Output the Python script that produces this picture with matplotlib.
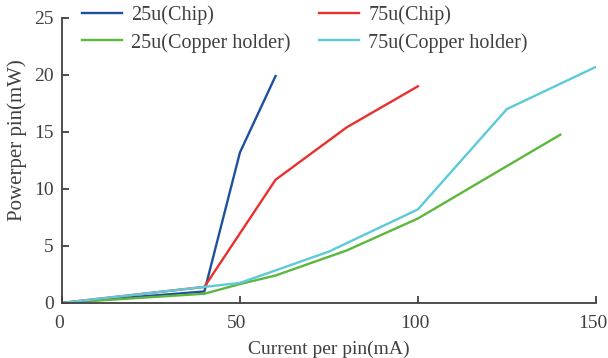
import matplotlib
matplotlib.use("Agg")
import matplotlib.pyplot as plt
import matplotlib.transforms as mtransforms

plt.rcParams['font.family'] = ['Liberation Serif', 'DejaVu Serif']

# data
x_chip25 = [0, 40, 50, 60]
y_chip25 = [0, 1.0, 13.2, 19.9]

x_chip75 = [0, 40, 60, 80, 100]
y_chip75 = [0, 1.4, 10.8, 15.4, 19.0]

x_cu25 = [0, 40, 50, 60, 80, 100, 125, 140]
y_cu25 = [0, 0.8, 1.65, 2.4, 4.6, 7.4, 12.0, 14.75]

x_cu75 = [0, 40, 50, 75, 100, 125, 150]
y_cu75 = [0, 1.4, 1.75, 4.5, 8.2, 17.0, 20.7]

xticks = [0, 50, 100, 150]
yticks = [0, 5, 10, 15, 20, 25]

txt = '#404040'
fig = plt.figure(figsize=(6.08, 3.58), dpi=100)
ax = fig.add_axes([0.102, 0.154, 0.878, 0.796])

ax.plot(x_chip25, y_chip25, color='#1f4f9e', lw=1.7, label='25u(Chip)')
ax.plot(x_cu25, y_cu25, color='#5cb83c', lw=1.7, label='25u(Copper holder)')
ax.plot(x_chip75, y_chip75, color='#e8302c', lw=1.7, label='75u(Chip)')
ax.plot(x_cu75, y_cu75, color='#5ccad8', lw=1.7, label='75u(Copper holder)')

ax.set_xlim(0, 150)
ax.set_ylim(0, 25)
ax.set_xticks(xticks)
ax.set_yticks(yticks)
for s in ['top', 'right']:
    ax.spines[s].set_visible(False)
for s in ['left', 'bottom']:
    ax.spines[s].set_color(txt)
    ax.spines[s].set_linewidth(1.3)
ax.tick_params(direction='in', length=5, width=1.3, color=txt,
               labelsize=14, labelcolor=txt)
ax.tick_params(axis='x', pad=9)
ax.tick_params(axis='y', pad=6)

# x tick labels sit slightly left of their ticks in the reference
shift = mtransforms.ScaledTranslation(-3 / 100, 0, fig.dpi_scale_trans)
for lab in ax.get_xticklabels():
    lab.set_transform(lab.get_transform() + shift)

ax.set_xlabel('Current per pin(mA)', fontsize=14, color=txt, labelpad=6)
ax.set_ylabel('Powerper pin(mW)', fontsize=15, color=txt)
ax.yaxis.set_label_coords(-0.0655, 0.572)

leg = ax.legend(ncol=2, frameon=False, fontsize=14.5, loc='upper left',
                bbox_to_anchor=(82 / 608, 1 - 5 / 358), bbox_transform=fig.transFigure,
                borderpad=0, borderaxespad=0, handlelength=2.0, handletextpad=0.45,
                columnspacing=1.4, labelspacing=0.4)
for t in leg.get_texts():
    t.set_color(txt)

fig.savefig('out.png', dpi=100)
